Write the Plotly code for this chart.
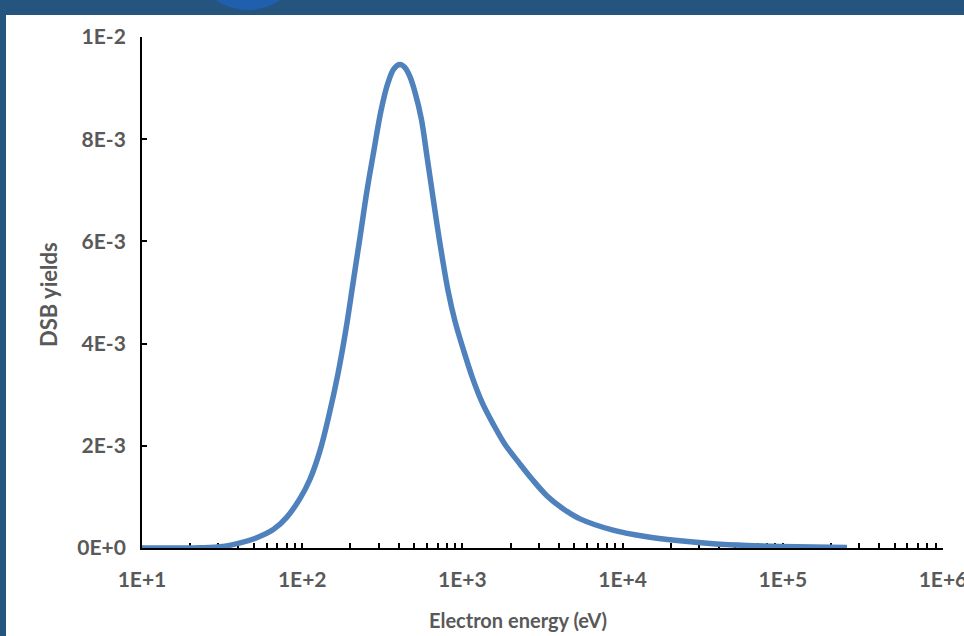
import plotly.graph_objects as go

# Data
energy_eV = [10, 23, 32, 41, 52, 66, 80, 97, 112, 129, 147, 167, 188, 208, 230, 254,
             281, 310, 343, 374, 408, 438, 471, 506, 554, 602, 647, 695, 747, 812,
             897, 1010, 1150, 1327, 1560, 1850, 2240, 2700, 3377, 4248, 5425, 8710,
             14190, 22800, 36650, 59780, 96100, 251600]
dsb_yield = [0.0, 0.000005, 0.00003, 0.0001, 0.0002, 0.00036, 0.0006, 0.00097, 0.00135,
             0.0019, 0.0026, 0.0034, 0.0043, 0.0052, 0.0061, 0.0070, 0.0078, 0.00855,
             0.0091, 0.00938, 0.00946, 0.0094, 0.00922, 0.00892, 0.0084, 0.00765, 0.00698,
             0.00632, 0.0057, 0.00505, 0.00445, 0.0039, 0.00335, 0.00285, 0.00242,
             0.00202, 0.00168, 0.00136, 0.00102, 0.00077, 0.00057, 0.00035, 0.00022,
             0.00014, 0.000085, 0.00005, 0.00003, 0.00001]

x_tick_vals = [1e1, 1e2, 1e3, 1e4, 1e5, 1e6]
x_tick_text = ["1E+1", "1E+2", "1E+3", "1E+4", "1E+5", "1E+6"]
y_tick_vals = [0, 0.002, 0.004, 0.006, 0.008, 0.01]
y_tick_text = ["0E+0", "2E-3", "4E-3", "6E-3", "8E-3", "1E-2"]

minor_vals = [d * m for d in x_tick_vals[:-1] for m in range(2, 10)]

W, H = 964, 636
L, R, T, B = 142, 21, 37, 88
pw, ph = W - L - R, H - T - B


def px(x):
    return (x - L) / pw


def py(y):
    return (H - B - y) / ph


font_fam = "Lato, 'Open Sans', sans-serif"
gray = "#595959"

fig = go.Figure()
fig.add_trace(go.Scatter(
    x=energy_eV, y=dsb_yield, mode="lines",
    line=dict(color="#4f81bd", width=5.5, shape="spline", smoothing=1.0),
    hoverinfo="skip", showlegend=False,
))

shapes = [
    dict(type="rect", xref="paper", yref="paper", x0=px(6), x1=px(W + 5), y0=py(H + 5), y1=py(15),
         fillcolor="white", line=dict(width=0), layer="below"),
    dict(type="circle", xref="paper", yref="paper", x0=px(190), x1=px(306), y0=py(10), y1=py(-106),
         fillcolor="#1f5fae", line=dict(width=0), layer="below"),
]

fig.update_layout(
    width=W, height=H,
    margin=dict(l=L, r=R, t=T, b=B),
    paper_bgcolor="#25557f",
    plot_bgcolor="white",
    shapes=shapes,
    font=dict(family=font_fam, color=gray),
    xaxis=dict(
        type="log", range=[1, 6],
        tickmode="array", tickvals=x_tick_vals, ticktext=x_tick_text,
        ticks="inside", ticklen=5, tickwidth=1.5, tickcolor="black",
        showline=True, linecolor="black", linewidth=1.8,
        showgrid=False, zeroline=False,
        tickfont=dict(family=font_fam, size=21, color=gray, weight="bold"),
        ticklabelstandoff=12,
        ticklabeloverflow="allow",
        automargin=False,
        minor=dict(tickmode="array", tickvals=minor_vals, ticks="inside", ticklen=5,
                   tickwidth=1.5, tickcolor="black", showgrid=False),
        layer="below traces",
    ),
    yaxis=dict(
        range=[0, 0.01],
        tickmode="array", tickvals=y_tick_vals, ticktext=y_tick_text,
        ticks="inside", ticklen=5, tickwidth=1.5, tickcolor="black",
        showline=True, linecolor="black", linewidth=1.8,
        showgrid=False, zeroline=False,
        tickfont=dict(family=font_fam, size=21, color=gray, weight="bold"),
        ticklabelstandoff=10,
        automargin=False,
        layer="below traces",
    ),
    annotations=[
        dict(text="<b>Electron energy (eV)</b>", xref="paper", yref="paper",
             x=px(518), y=py(620), xanchor="center", yanchor="middle", showarrow=False,
             font=dict(family=font_fam, size=20, color=gray)),
        dict(text="<b>DSB yields</b>", xref="paper", yref="paper",
             x=px(48), y=py(295), xanchor="center", yanchor="middle", showarrow=False,
             textangle=-90, font=dict(family=font_fam, size=22, color=gray)),
    ],
)

fig.write_html(
    "out.html",
    config={"displayModeBar": False},
    post_script="document.body.style.margin='0';document.body.style.padding='0';document.body.style.overflow='hidden';",
)
